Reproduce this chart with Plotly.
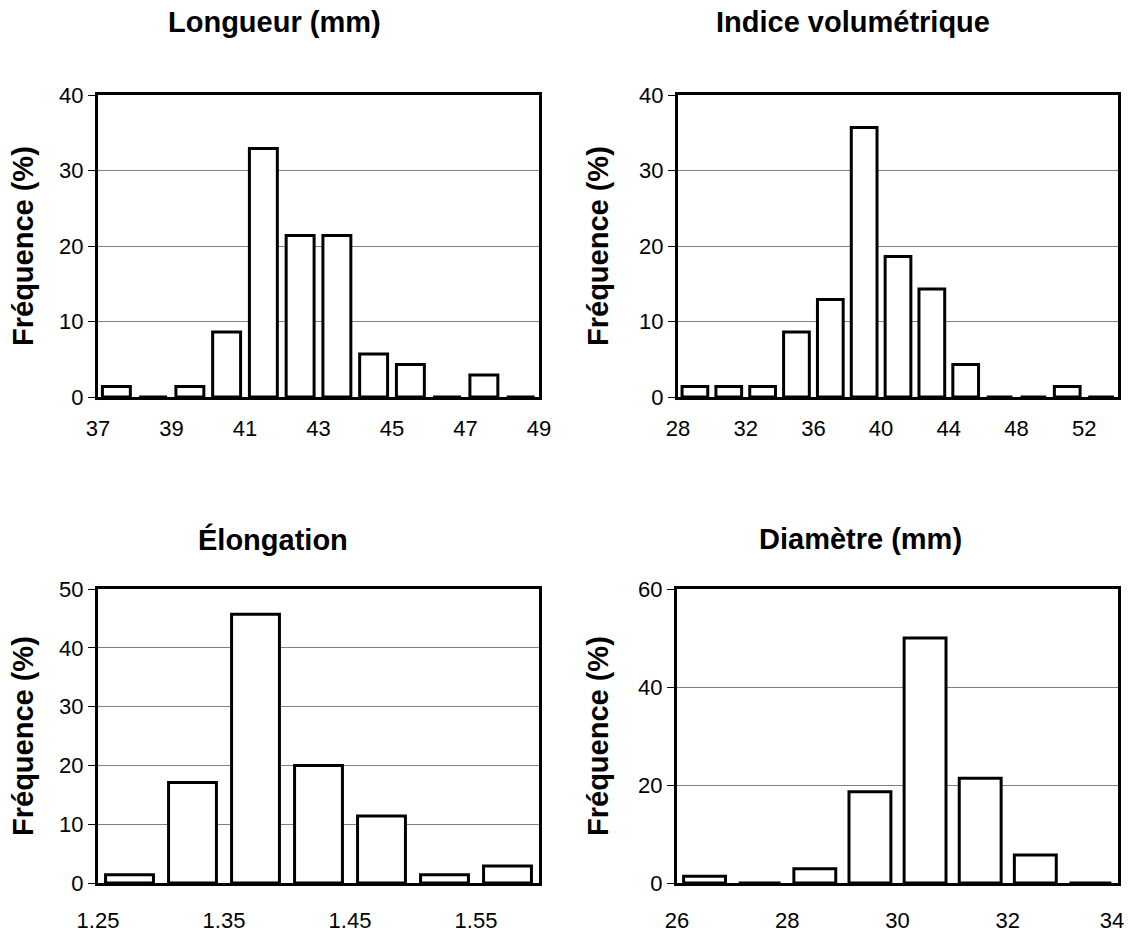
import plotly.graph_objects as go

W, H = 1128, 935

# ---------------- data ----------------
longueur_centres = [37.5, 38.5, 39.5, 40.5, 41.5, 42.5, 43.5, 44.5, 45.5, 46.5, 47.5, 48.5]
longueur_freq = [1.4, 0, 1.4, 8.6, 32.9, 21.4, 21.4, 5.7, 4.3, 0, 2.9, 0]
longueur_ticks = [37, 39, 41, 43, 45, 47, 49]

indice_centres = [29, 31, 33, 35, 37, 39, 41, 43, 45, 47, 49, 51, 53]
indice_freq = [1.4, 1.4, 1.4, 8.6, 12.9, 35.7, 18.6, 14.3, 4.3, 0, 0, 1.4, 0]
indice_ticks = [28, 32, 36, 40, 44, 48, 52]

elong_centres = [1.275, 1.325, 1.375, 1.425, 1.475, 1.525, 1.575]
elong_freq = [1.4, 17.1, 45.7, 20.0, 11.4, 1.4, 2.9]
elong_ticks = [1.25, 1.35, 1.45, 1.55]
elong_ticktext = ["1.25", "1.35", "1.45", "1.55"]

diam_centres = [26.5, 27.5, 28.5, 29.5, 30.5, 31.5, 32.5, 33.5]
diam_freq = [1.4, 0, 2.9, 18.6, 50.0, 21.4, 5.7, 0]
diam_ticks = [26, 28, 30, 32, 34]
diam_ticktext = ["26", "28", "30", "32", "34\u00a0\u00a0"]

titles = ["Longueur (mm)", "Indice volumétrique", "Élongation", "Diamètre (mm)"]
y_title = "Fréquence (%)"

# ---------------- layout helpers ----------------
FONT = "Arial, 'Liberation Sans', sans-serif"

def px_x(p):
    return p / W

def px_y(p):
    return 1 - p / H

panels = [
    # (centres, freq, binwidth, xrange, tickvals, ticktext, yrange, dtick, box px (x0,x1,y0,y1), standoff)
    (longueur_centres, longueur_freq, 1, [37, 49], longueur_ticks, [str(t) for t in longueur_ticks], [0, 40], 10, (98, 539, 95, 397), 10),
    (indice_centres, indice_freq, 2, [28, 54], indice_ticks, [str(t) for t in indice_ticks], [0, 40], 10, (678, 1118, 95, 397), 10),
    (elong_centres, elong_freq, 0.05, [1.25, 1.60], elong_ticks, elong_ticktext, [0, 50], 10, (98, 539, 589, 883), 16),
    (diam_centres, diam_freq, 1, [26, 34], diam_ticks, diam_ticktext, [0, 60], 20, (677, 1118, 589, 883), 16),
]

title_pos = [(274, 22), (853, 22), (273, 539), (860, 539)]
ytitle_x = [23, 598, 23, 598]

fig = go.Figure()
layout = dict(
    width=W, height=H,
    margin=dict(l=0, r=0, t=0, b=0, pad=0, autoexpand=False),
    paper_bgcolor="white", plot_bgcolor="white",
    showlegend=False,
    font=dict(family=FONT, color="black", size=22),
    annotations=[],
)

for i, (cx, fy, bw, xr, tv, tt, yr, dt, box, so) in enumerate(panels):
    n = "" if i == 0 else str(i + 1)
    fig.add_trace(go.Bar(
        x=cx, y=fy, width=[bw * 0.76] * len(cx),
        marker=dict(color="white", line=dict(color="black", width=3)),
        xaxis="x" + n, yaxis="y" + n, hoverinfo="x+y",
    ))
    x0, x1, y0, y1 = box
    layout["xaxis" + n] = dict(
        domain=[px_x(x0), px_x(x1)], anchor="y" + n, range=xr,
        tickmode="array", tickvals=tv, ticktext=tt, ticks="",
        ticklabelstandoff=so, ticklabeloverflow="allow", automargin=False,
        showgrid=False, zeroline=False,
        showline=True, linecolor="black", linewidth=3, mirror=True,
        tickfont=dict(size=22, family=FONT, color="black"),
    )
    layout["yaxis" + n] = dict(
        domain=[px_y(y1), px_y(y0)], anchor="x" + n, range=yr,
        tickmode="linear", tick0=0, dtick=dt,
        ticks="outside", ticklen=7, tickwidth=1, tickcolor="black",
        showgrid=True, gridcolor="#808080", gridwidth=1,
        zeroline=False, automargin=False,
        showline=True, linecolor="black", linewidth=3, mirror=True,
        tickfont=dict(size=22, family=FONT, color="black"),
    )
    tx, ty = title_pos[i]
    layout["annotations"].append(dict(
        text="<b>%s</b>" % titles[i], x=px_x(tx), y=px_y(ty),
        xref="paper", yref="paper", xanchor="center", yanchor="middle",
        showarrow=False, font=dict(size=29, family=FONT, color="black"),
    ))
    layout["annotations"].append(dict(
        text="<b>%s</b>" % y_title, x=px_x(ytitle_x[i]), y=px_y((y0 + y1) / 2),
        xref="paper", yref="paper", xanchor="center", yanchor="middle",
        textangle=-90, showarrow=False,
        font=dict(size=29, family=FONT, color="black"),
    ))

fig.update_layout(**layout)
fig.write_html(
    "out.html",
    config={"displayModeBar": False},
    post_script="document.body.style.margin='0';document.body.style.overflow='hidden';",
)
